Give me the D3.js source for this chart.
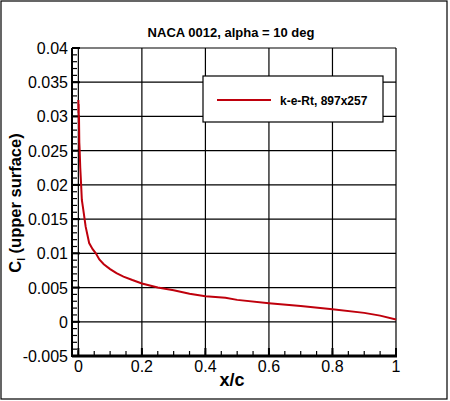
<!DOCTYPE html>
<html>
<head>
<meta charset="utf-8">
<script src="https://cdn.jsdelivr.net/npm/d3@7"></script>
<style>
  body { margin: 0; background: white; }
  text { font-family: "Liberation Sans", Arial, sans-serif; }
</style>
</head>
<body>
<script>
// Data
var xPts = [0, 0.0005, 0.001, 0.0015, 0.002, 0.003, 0.004, 0.005, 0.006, 0.008, 0.011, 0.0155,
  0.023, 0.034, 0.045, 0.055, 0.066, 0.08, 0.1, 0.12, 0.142, 0.17, 0.2, 0.25, 0.3, 0.35, 0.4,
  0.463, 0.5, 0.6, 0.7, 0.8, 0.9, 0.95, 1.0];
var cfPts = [0.0324, 0.0305, 0.0318, 0.0290, 0.0300, 0.0262, 0.0252, 0.0238, 0.0225, 0.0207, 0.0178, 0.0164,
  0.0139, 0.0115, 0.0106, 0.0100, 0.0091, 0.0084, 0.0077, 0.0071, 0.0066, 0.0061, 0.0056, 0.0050, 0.0046, 0.0041, 0.00373,
  0.0035, 0.0032, 0.0027, 0.0023, 0.00184, 0.0013, 0.0009, 0.00034];

var yTicks = [-0.005, 0, 0.005, 0.01, 0.015, 0.02, 0.025, 0.03, 0.035, 0.04];
var yLabels = ["-0.005", "0", "0.005", "0.01", "0.015", "0.02", "0.025", "0.03", "0.035", "0.04"];
var xTicks = [0, 0.2, 0.4, 0.6, 0.8, 1];
var xLabels = ["0", "0.2", "0.4", "0.6", "0.8", "1"];

var titleText = "NACA 0012, alpha = 10 deg";
var legendText = "k-e-Rt, 897x257";

var line_col = "#bf000c";

var svg = d3.select("body").append("svg")
  .attr("width", 450)
  .attr("height", 401)
  .style("display", "block");

// outer frame
svg.append("rect")
  .attr("x", 1).attr("y", 1)
  .attr("width", 446).attr("height", 398)
  .style("fill", "white")
  .style("stroke", "black")
  .style("stroke-width", 1.2);

var x = d3.scaleLinear().domain([-0.02, 1]).range([72, 396]);
var y = d3.scaleLinear().domain([-0.005, 0.04]).range([356, 48]);

// grid
svg.selectAll("line.vgrid")
  .data(xTicks)
  .enter().append("line")
  .attr("class", "vgrid")
  .attr("x1", function (d) { return x(d); })
  .attr("x2", function (d) { return x(d); })
  .attr("y1", y(-0.005)).attr("y2", y(0.04))
  .style("stroke", "black").style("stroke-width", 1.2);

svg.selectAll("line.hgrid")
  .data(yTicks)
  .enter().append("line")
  .attr("class", "hgrid")
  .attr("x1", x(-0.02)).attr("x2", x(1))
  .attr("y1", function (d) { return y(d); })
  .attr("y2", function (d) { return y(d); })
  .style("stroke", "black").style("stroke-width", 1.2);

// minor ticks
var yMinor = d3.range(-0.005, 0.04001, 0.001);
svg.selectAll("line.yminor")
  .data(yMinor)
  .enter().append("line")
  .attr("x1", x(-0.02)).attr("x2", x(-0.02) + 5)
  .attr("y1", function (d) { return y(d); })
  .attr("y2", function (d) { return y(d); })
  .style("stroke", "black").style("stroke-width", 1.2);

svg.selectAll("line.ymajor")
  .data(yTicks)
  .enter().append("line")
  .attr("x1", x(-0.02)).attr("x2", x(-0.02) + 8)
  .attr("y1", function (d) { return y(d); })
  .attr("y2", function (d) { return y(d); })
  .style("stroke", "black").style("stroke-width", 2);

var xMinor = d3.range(0, 1.0001, 0.05);
svg.selectAll("line.xminor")
  .data(xMinor)
  .enter().append("line")
  .attr("x1", function (d) { return x(d); })
  .attr("x2", function (d) { return x(d); })
  .attr("y1", y(-0.005)).attr("y2", y(-0.005) - 5)
  .style("stroke", "black").style("stroke-width", 1.2);

svg.selectAll("line.xmajor")
  .data(xTicks)
  .enter().append("line")
  .attr("x1", function (d) { return x(d); })
  .attr("x2", function (d) { return x(d); })
  .attr("y1", y(-0.005)).attr("y2", y(-0.005) - 8)
  .style("stroke", "black").style("stroke-width", 2);

// axis lines
svg.append("line")
  .attr("x1", x(-0.02)).attr("x2", x(-0.02))
  .attr("y1", y(-0.005) + 1).attr("y2", y(0.04))
  .style("stroke", "black").style("stroke-width", 2);
svg.append("line")
  .attr("x1", x(-0.02)).attr("x2", x(1) + 1)
  .attr("y1", y(-0.005)).attr("y2", y(-0.005))
  .style("stroke", "black").style("stroke-width", 3);

// tick labels
svg.selectAll("text.ylab")
  .data(yTicks)
  .enter().append("text")
  .attr("x", 68)
  .attr("y", function (d) { return y(d) + 6; })
  .attr("text-anchor", "end")
  .style("font-size", "16px")
  .text(function (d, i) { return yLabels[i]; });

svg.selectAll("text.xlab")
  .data(xTicks)
  .enter().append("text")
  .attr("x", function (d) { return x(d); })
  .attr("y", 372)
  .attr("text-anchor", "middle")
  .style("font-size", "16px")
  .text(function (d, i) { return xLabels[i]; });

// curve
var lineGen = d3.line()
  .x(function (d, i) { return x(xPts[i]); })
  .y(function (d) { return y(d); });

svg.append("path")
  .datum(cfPts)
  .attr("d", lineGen)
  .style("fill", "none")
  .style("stroke", line_col)
  .style("stroke-width", 2);

// title
svg.append("text")
  .attr("x", 231).attr("y", 37)
  .attr("text-anchor", "middle")
  .style("font-size", "13px")
  .style("font-weight", "bold")
  .text(titleText);

// axis titles
svg.append("text")
  .attr("x", 232).attr("y", 386)
  .attr("text-anchor", "middle")
  .style("font-size", "18px")
  .style("font-weight", "bold")
  .text("x/c");

var ylab = svg.append("text")
  .attr("transform", "translate(21,203) rotate(-90)")
  .attr("text-anchor", "middle")
  .style("font-size", "16.5px")
  .style("font-weight", "bold");
ylab.append("tspan").text("C");
ylab.append("tspan").attr("dy", 4).style("font-size", "10px").text("l");
ylab.append("tspan").attr("dy", -4).text(" (upper surface)");

// legend
svg.append("rect")
  .attr("x", 203).attr("y", 76)
  .attr("width", 180).attr("height", 46)
  .style("fill", "white")
  .style("stroke", "black")
  .style("stroke-width", 1.2);
svg.append("line")
  .attr("x1", 217).attr("x2", 271)
  .attr("y1", 100).attr("y2", 100)
  .style("stroke", line_col)
  .style("stroke-width", 2);
svg.append("text")
  .attr("x", 280).attr("y", 105)
  .style("font-size", "12px")
  .style("font-weight", "bold")
  .text(legendText);
</script>
</body>
</html>
